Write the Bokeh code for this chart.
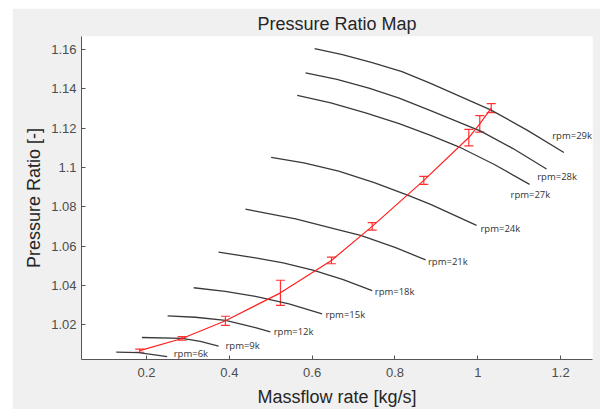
from bokeh.plotting import figure
from bokeh.models import ColumnDataSource, Whisker, TeeHead, FixedTicker, Range1d, CustomJSTickFormatter
from bokeh.core.properties import value
from bokeh.embed import file_html
from bokeh.resources import INLINE

# ---- speed lines: massflow [kg/s] vs pressure ratio [-] ----
rpm6_x = [0.127, 0.181, 0.250]
rpm6_y = [1.0061, 1.0058, 1.0038]
rpm9_x = [0.189, 0.286, 0.330, 0.374]
rpm9_y = [1.0135, 1.0130, 1.0115, 1.0091]
rpm12_x = [0.251, 0.318, 0.391, 0.463, 0.499]
rpm12_y = [1.0245, 1.0238, 1.0222, 1.0185, 1.0163]
rpm15_x = [0.314, 0.390, 0.463, 0.544, 0.624]
rpm15_y = [1.0388, 1.0370, 1.0344, 1.0306, 1.0255]
rpm18_x = [0.374, 0.463, 0.530, 0.604, 0.675, 0.745]
rpm18_y = [1.0569, 1.0540, 1.0514, 1.0476, 1.0429, 1.0373]
rpm21_x = [0.439, 0.463, 0.560, 0.664, 0.717, 0.800, 0.874]
rpm21_y = [1.0788, 1.0778, 1.0738, 1.0682, 1.0654, 1.0593, 1.0530]
rpm24_x = [0.501, 0.580, 0.664, 0.750, 0.832, 0.886, 0.997]
rpm24_y = [1.1051, 1.1023, 1.0981, 1.0923, 1.0858, 1.0812, 1.0705]
rpm27_x = [0.564, 0.645, 0.729, 0.810, 0.886, 0.954, 1.040, 1.125]
rpm27_y = [1.1366, 1.1328, 1.1277, 1.1223, 1.1163, 1.1105, 1.1015, 1.0914]
rpm28_x = [0.584, 0.660, 0.737, 0.810, 0.886, 1.007, 1.085, 1.166]
rpm28_y = [1.1481, 1.1448, 1.1403, 1.1352, 1.1289, 1.1185, 1.1096, 1.0992]
rpm29_x = [0.606, 0.673, 0.745, 0.817, 0.886, 1.031, 1.119, 1.208]
rpm29_y = [1.1604, 1.1574, 1.1533, 1.1487, 1.1428, 1.1293, 1.1190, 1.1076]

# ---- speed line labels (data coordinates) ----
rpm_names = ["rpm=6k", "rpm=9k", "rpm=12k", "rpm=15k", "rpm=18k",
             "rpm=21k", "rpm=24k", "rpm=27k", "rpm=28k", "rpm=29k"]
label_x = [0.2657, 0.3906, 0.5072, 0.632, 0.7512, 0.8797, 1.0065, 1.079, 1.1435, 1.1797]
label_y = [1.0051, 1.0093, 1.0163, 1.0252, 1.0369, 1.0524, 1.0691, 1.0862, 1.0954, 1.116]

# ---- operating points with error bars ----
op_x = [0.1836, 0.286, 0.3906, 0.5234, 0.6466, 0.745, 0.8696, 0.9783, 1.0048, 1.0324]
op_y = [1.0068, 1.0130, 1.0220, 1.0362, 1.0527, 1.0700, 1.0934, 1.1152, 1.1222, 1.1302]
op_err = [0.0008, 0.0009, 0.0023, 0.0064, 0.0017, 0.0019, 0.0020, 0.0042, 0.0042, 0.0023]

x_ticks = [0.2, 0.4, 0.6, 0.8, 1.0, 1.2]
y_ticks = [1.02, 1.04, 1.06, 1.08, 1.10, 1.12, 1.14, 1.16]

p = figure(width=588, height=401,
           x_range=Range1d(0.043, 1.277), y_range=Range1d(1.0023, 1.1666),
           output_backend="svg", toolbar_location=None,
           min_border_left=69, min_border_right=8, min_border_top=28, min_border_bottom=46,
           margin=(8, 0, 0, 12))

p.border_fill_color = "#f0f0f0"
p.background_fill_color = "#ffffff"
p.outline_line_color = None
p.grid.visible = False

p.title.text = "Pressure Ratio Map"
p.title.text_font = "Liberation Sans"
p.title.text_font_size = "18px"
p.title.text_font_style = "normal"
p.title.text_color = "#262626"
p.title.align = "center"
p.title.standoff = 6

speed_lines = [(rpm6_x, rpm6_y), (rpm9_x, rpm9_y), (rpm12_x, rpm12_y), (rpm15_x, rpm15_y),
               (rpm18_x, rpm18_y), (rpm21_x, rpm21_y), (rpm24_x, rpm24_y), (rpm27_x, rpm27_y),
               (rpm28_x, rpm28_y), (rpm29_x, rpm29_y)]
for xs, ys in speed_lines:
    p.line(xs, ys, line_color="#3a3a3a", line_width=1.3, line_join="round")

p.text(x=label_x, y=label_y, text=rpm_names, text_font=value("Open Sans"),
       text_font_size=value("9.5px"), text_color="#333333",
       text_baseline="middle", text_align="left")

src = ColumnDataSource(data=dict(
    x=op_x, y=op_y,
    upper=[a + b for a, b in zip(op_y, op_err)],
    lower=[a - b for a, b in zip(op_y, op_err)]))
p.line("x", "y", source=src, line_color="#ff2020", line_width=1.2, line_join="round")
w = Whisker(source=src, base="x", upper="upper", lower="lower", dimension="height",
            line_color="#ff3030", line_width=1.2,
            upper_head=TeeHead(size=9, line_color="#ff3030", line_width=1.2),
            lower_head=TeeHead(size=9, line_color="#ff3030", line_width=1.2))
p.add_layout(w)

p.xaxis.ticker = FixedTicker(ticks=x_ticks)
p.yaxis.ticker = FixedTicker(ticks=y_ticks)
fmt = "return Number(tick.toFixed(2)).toString();"
p.xaxis.formatter = CustomJSTickFormatter(code=fmt)
p.yaxis.formatter = CustomJSTickFormatter(code=fmt)

p.xaxis.axis_label = "Massflow rate [kg/s]"
p.yaxis.axis_label = "Pressure Ratio [-]"
for ax in (p.xaxis, p.yaxis):
    ax.axis_label_text_font = "Liberation Sans"
    ax.axis_label_text_font_size = "18px"
    ax.axis_label_text_font_style = "normal"
    ax.axis_label_text_color = "#262626"
    ax.major_label_text_font = "Liberation Sans"
    ax.major_label_text_font_size = "13px"
    ax.major_label_text_color = "#4d4d4d"
    ax.axis_line_color = "#555555"
    ax.major_tick_line_color = "#555555"
    ax.major_tick_in = 4
    ax.major_tick_out = 0
    ax.minor_tick_line_color = None
p.xaxis.major_label_standoff = 8
p.xaxis.axis_label_standoff = 7
p.xaxis.axis_label_text_line_height = 1.0
p.yaxis.major_label_standoff = 5
p.yaxis.axis_label_standoff = 4

open("out.html", "w").write(file_html(p, INLINE))
